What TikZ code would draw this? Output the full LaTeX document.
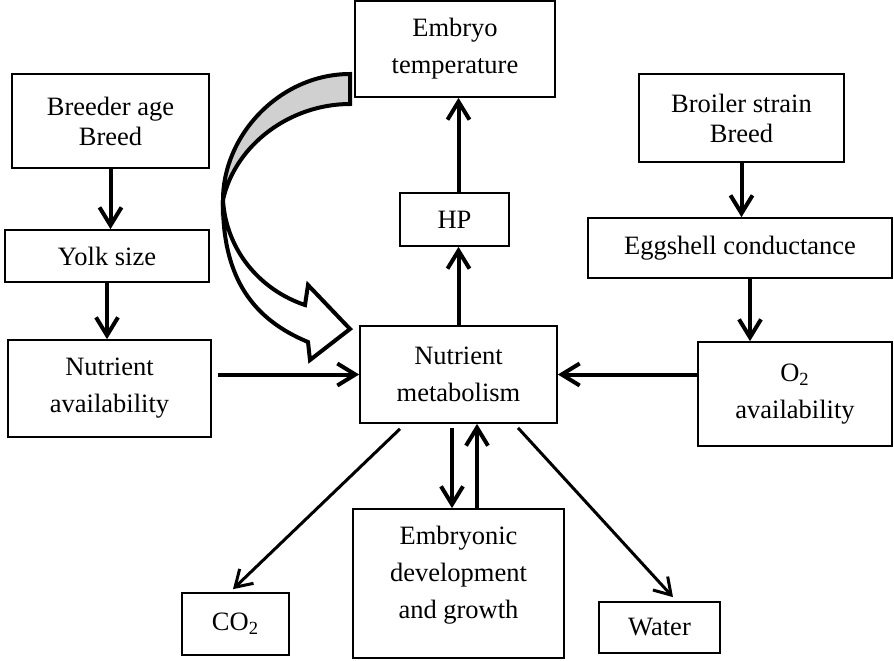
\documentclass[tikz,border=0pt]{standalone}
\usepackage{fontspec}
\setmainfont{Liberation Serif}
\usetikzlibrary{arrows.meta,calc}
\definecolor{bandgray}{RGB}{208,208,208}
\begin{document}
\begin{tikzpicture}[x=0.5pt,y=-0.5pt,
  box/.style={draw, line width=0.85pt, align=center, inner sep=0pt,
    font=\fontsize{13.25}{18.5}\selectfont},
  tight/.style={font=\fontsize{13.25}{15}\selectfont},
  arr/.style={line width=2pt, -{Straight Barb[length=9pt,width=11pt]}},
  thinarr/.style={line width=1.5pt, -{Straight Barb[length=8pt,width=10pt]}},
  bigarrow/.style={line width=2pt, line join=miter, draw=black}]
\useasboundingbox (0,0) rectangle (894,660);

% boxes
\node[box, minimum width=100pt, minimum height=48pt] (temp) at (455,49) {Embryo\\temperature};
\node[box, tight, minimum width=98.5pt, minimum height=47pt] (breeder) at (110.5,121) {Breeder age\\Breed};
\node[box, minimum width=102pt, minimum height=26pt] (yolk) at (107,256) {Yolk size};
\node[box, minimum width=101.5pt, minimum height=48.5pt] (navail) at (109.5,388.5) {Nutrient\\availability};
\node[box, minimum width=54.5pt, minimum height=26.5pt] (hp) at (454.5,219.5) {HP};
\node[box, minimum width=98.5pt, minimum height=48.5pt] (nm) at (458.5,374.5) {Nutrient\\metabolism};
\node[box, minimum width=105.5pt, minimum height=74.5pt] (emb) at (458.5,583.5) {Embryonic\\development\\and growth\rule[-11pt]{0pt}{0pt}};
\node[box, minimum width=53.5pt, minimum height=31pt] (co2) at (235.5,624) {CO\textsubscript{2}};
\node[box, minimum width=60.5pt, minimum height=25.5pt] (water) at (659.5,627.5) {Water};
\node[box, tight, minimum width=102.5pt, minimum height=44pt] (broiler) at (741.5,118) {Broiler strain\\Breed};
\node[box, minimum width=152pt, minimum height=30pt] (egg) at (740,248) {Eggshell conductance};
\node[box, minimum width=97pt, minimum height=52pt] (o2) at (795,394) {O\textsubscript{2}\\availability};

% straight arrows
\draw[arr] (breeder.south) -- (breeder.south |- yolk.north);
\draw[arr] (yolk.south) -- (yolk.south |- navail.north);
\draw[arr, shorten <=3pt] (navail.east |- nm.west) -- (nm.west);
\draw[arr] (o2.west |- nm.east) -- (nm.east);
\draw[arr] (broiler.south) -- (broiler.south |- egg.north);
\draw[arr] ([xshift=5pt]egg.south) -- ([xshift=5pt]egg.south |- o2.north);
\draw[arr] (nm.north) -- (nm.north |- hp.south);
\draw[arr] (nm.north |- hp.north) -- (nm.north |- temp.south);
\draw[arr, shorten <=2pt] ([xshift=-3.25pt]nm.south) -- ([xshift=-3.25pt]nm.south |- emb.north);
\draw[arr] ([xshift=9.25pt]nm.south |- emb.north) -- ([xshift=9.25pt]nm.south);
\draw[thinarr] ([xshift=-29.25pt,yshift=-2.5pt]nm.south) -- ([xshift=-1.25pt,yshift=1.5pt]co2.north);
\draw[thinarr] ([xshift=29.75pt,yshift=-2pt]nm.south) -- ([xshift=6.75pt,yshift=2pt]water.north);

% curved block arrow
\filldraw[bigarrow, fill=bandgray]
  (350,74) .. controls (280,74) and (223,135) .. (223,200)
  .. controls (235,145) and (290,104) .. (350,104) -- cycle;
\filldraw[bigarrow, fill=white]
  (223,200) .. controls (222,280) and (255,320) .. (308,342)
  -- (310,360) -- (350,329) -- (308,285) -- (305,305)
  .. controls (260,290) and (226,250) .. (223,200) -- cycle;
\end{tikzpicture}
\end{document}
